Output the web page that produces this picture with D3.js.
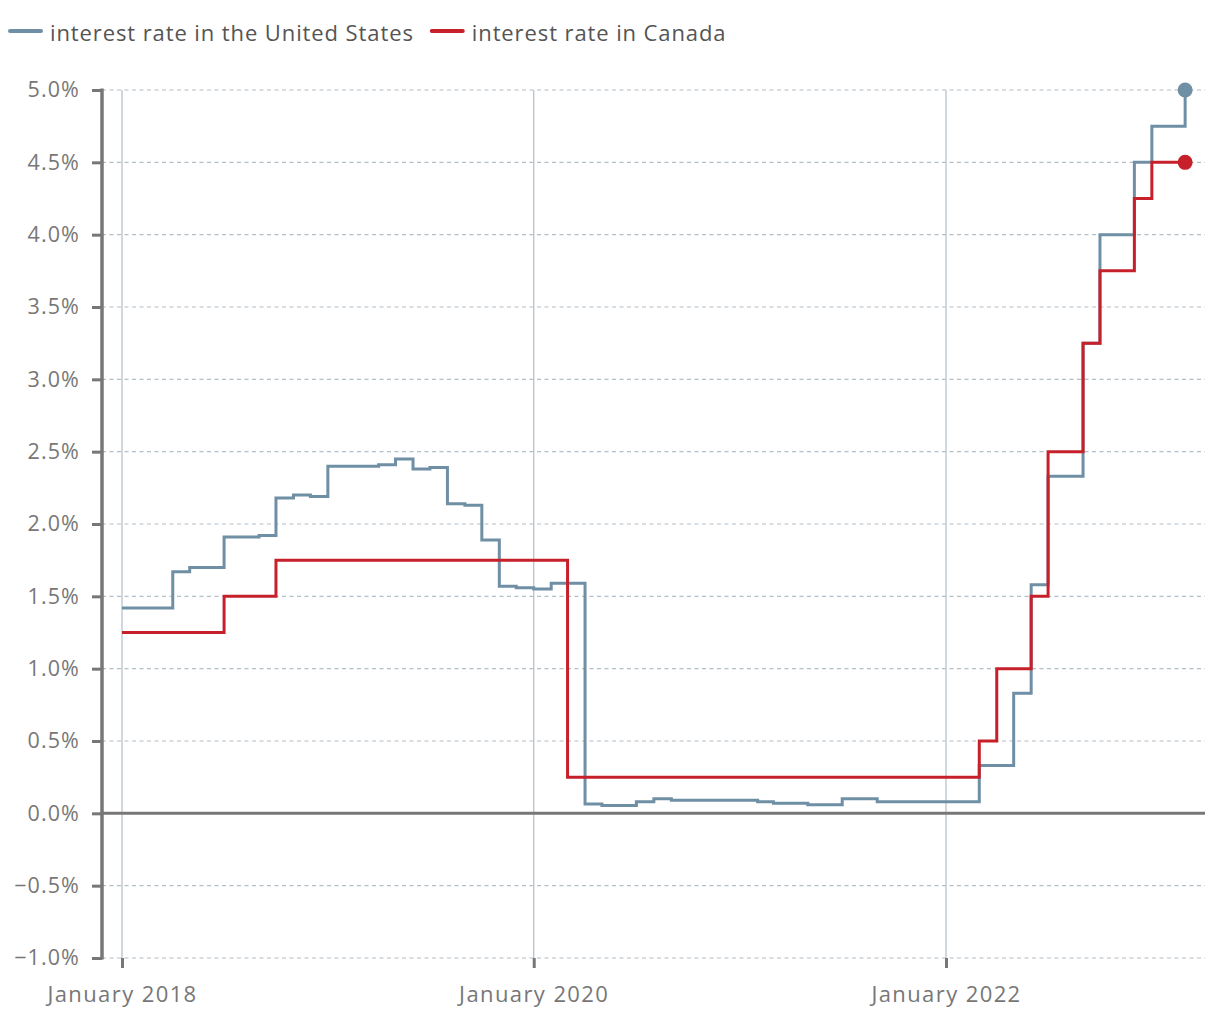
<!DOCTYPE html>
<html>
<head>
<meta charset="utf-8">
<script src="https://cdn.jsdelivr.net/npm/d3@7"></script>
<style>
  body { margin: 0; background: #fff; }
  svg text { font-family: "Open Sans", sans-serif; letter-spacing: 1.1px; }
</style>
</head>
<body>
<div id="chart"></div>
<script>
// Monthly change points (step after): [month, rate %]
const usRates = [
  ['2018-01', 1.42], ['2018-04', 1.67], ['2018-05', 1.70], ['2018-07', 1.91],
  ['2018-09', 1.92], ['2018-10', 2.18], ['2018-11', 2.20], ['2018-12', 2.19],
  ['2019-01', 2.40], ['2019-04', 2.41], ['2019-05', 2.45], ['2019-06', 2.38],
  ['2019-07', 2.39], ['2019-08', 2.14], ['2019-09', 2.13], ['2019-10', 1.89],
  ['2019-11', 1.57], ['2019-12', 1.56], ['2020-01', 1.55], ['2020-02', 1.59],
  ['2020-04', 0.065], ['2020-05', 0.055], ['2020-07', 0.08], ['2020-08', 0.10],
  ['2020-09', 0.09], ['2021-02', 0.08], ['2021-03', 0.07], ['2021-05', 0.06],
  ['2021-07', 0.10], ['2021-09', 0.08], ['2022-03', 0.33], ['2022-05', 0.83],
  ['2022-06', 1.58], ['2022-07', 2.33], ['2022-09', 3.25], ['2022-10', 4.00],
  ['2022-12', 4.50], ['2023-01', 4.75], ['2023-03', 5.00]
];
const caRates = [
  ['2018-01', 1.25], ['2018-07', 1.50], ['2018-10', 1.75], ['2020-03', 0.25],
  ['2022-03', 0.50], ['2022-04', 1.00], ['2022-06', 1.50], ['2022-07', 2.50],
  ['2022-09', 3.25], ['2022-10', 3.75], ['2022-12', 4.25], ['2023-01', 4.50],
  ['2023-03', 4.50]
];
const seriesNames = ['interest rate in the United States', 'interest rate in Canada'];
const seriesColors = ['#6f8fa5', '#c6202b'];
const yTicks = [-1, -0.5, 0, 0.5, 1, 1.5, 2, 2.5, 3, 3.5, 4, 4.5, 5];
const xTicks = ['2018-01', '2020-01', '2022-01'];

const W = 1220, H = 1020;
const parse = d3.timeParse('%Y-%m');
const axisX = 102, plotRight = 1205;

const svg = d3.select('#chart').append('svg').attr('width', W).attr('height', H);

const x = d3.scaleTime()
  .domain([parse('2018-01'), parse('2022-01')])
  .range([122, 946]);
const y = d3.scaleLinear().domain([-1, 5]).range([958, 90]);

// horizontal dashed grid
svg.append('g').selectAll('line')
  .data(yTicks.filter(d => d !== 0))
  .join('line')
  .attr('x1', axisX).attr('x2', plotRight)
  .attr('y1', d => y(d)).attr('y2', d => y(d))
  .attr('stroke', '#b3bec5').attr('stroke-width', 1.2)
  .attr('stroke-dasharray', '4,3.5');

// vertical year grid
svg.append('g').selectAll('line')
  .data(xTicks)
  .join('line')
  .attr('x1', d => x(parse(d))).attr('x2', d => x(parse(d)))
  .attr('y1', y(5)).attr('y2', y(-1))
  .attr('stroke', '#b7c3cb').attr('stroke-width', 1.3);

// zero line
svg.append('line')
  .attr('x1', axisX).attr('x2', plotRight)
  .attr('y1', y(0)).attr('y2', y(0))
  .attr('stroke', '#777').attr('stroke-width', 3);

// y axis
const yAxis = d3.axisLeft(y)
  .tickValues(yTicks)
  .tickSize(10)
  .tickPadding(12)
  .tickFormat(d => d3.format('.1f')(d).replace('-', '\u2212') + '%');
const gy = svg.append('g').attr('transform', `translate(${axisX},0)`).call(yAxis);
gy.select('.domain').attr('stroke', '#777').attr('stroke-width', 3.5)
  .attr('d', `M0,${y(5) - 1.5}V${y(-1) + 1.5}`);
gy.selectAll('.tick line').attr('stroke', '#777').attr('stroke-width', 3);
gy.selectAll('.tick text').attr('fill', '#777').style('font-size', '21.5px');

// x axis ticks
const xAxis = d3.axisBottom(x)
  .tickValues(xTicks.map(parse))
  .tickSize(10)
  .tickPadding(18)
  .tickFormat(d3.timeFormat('%B %Y'));
const gx = svg.append('g').attr('transform', `translate(0,${y(-1)})`).call(xAxis);
gx.select('.domain').remove();
gx.selectAll('.tick line').attr('stroke', '#777').attr('stroke-width', 3);
gx.selectAll('.tick text').attr('fill', '#777').style('font-size', '22px')
  .style('letter-spacing', '1.4px');

// lines
const line = d3.line()
  .x(d => x(parse(d[0])))
  .y(d => y(d[1]))
  .curve(d3.curveStepAfter);

[usRates, caRates].forEach((data, i) => {
  svg.append('path')
    .datum(data)
    .attr('fill', 'none')
    .attr('stroke', seriesColors[i])
    .attr('stroke-width', 3)
    .attr('stroke-linejoin', 'miter')
    .attr('d', line);
  const last = data[data.length - 1];
  svg.append('circle')
    .attr('cx', x(parse(last[0])))
    .attr('cy', y(last[1]))
    .attr('r', 7.5)
    .attr('fill', seriesColors[i]);
});

// legend
const legend = svg.append('g').attr('transform', 'translate(10,31)');
let lx = 0;
seriesNames.forEach((name, i) => {
  const g = legend.append('g').attr('transform', `translate(${lx},0)`);
  g.append('line').attr('x1', 0).attr('x2', 31)
    .attr('stroke', seriesColors[i]).attr('stroke-width', 4).attr('stroke-linecap', 'round');
  const t = g.append('text').attr('x', 40).attr('y', 10)
    .attr('fill', '#555').style('font-size', '22px').style('letter-spacing', '0.9px')
    .text(name);
  lx += 40 + t.node().getComputedTextLength() + 18;
});
</script>
</body>
</html>
